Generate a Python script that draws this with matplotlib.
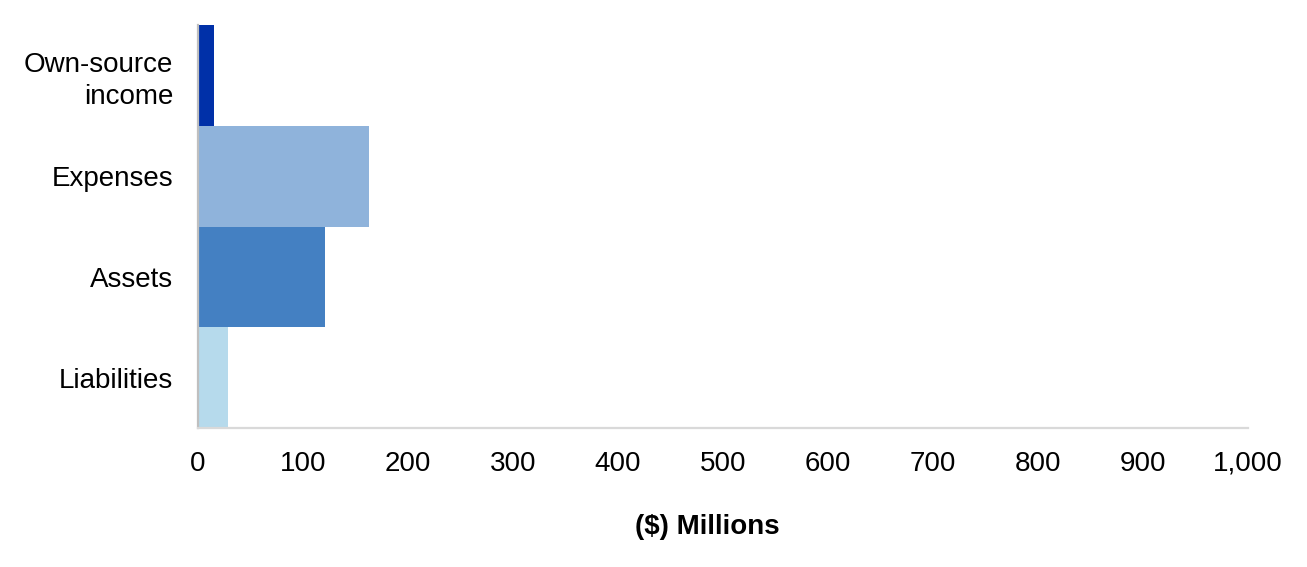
import matplotlib
matplotlib.use("Agg")
import matplotlib.pyplot as plt

categories = ["Own-source\nincome", "Expenses", "Assets", "Liabilities"]
values = [15, 163, 121, 29]
colors = ["#0030A8", "#8FB3DB", "#4480C2", "#B6DAEC"]
xticks = [0, 100, 200, 300, 400, 500, 600, 700, 800, 900, 1000]
xtick_labels = ["0", "100", "200", "300", "400", "500", "600", "700", "800", "900", "1,000"]

plt.rcParams["font.family"] = ["Liberation Sans", "DejaVu Sans"]

fig = plt.figure(figsize=(13.07, 5.67), dpi=100)
ax = fig.add_axes([198/1307, 1-428/567, 1050/1307, 403/567])

ypos = list(range(len(categories)))
ax.barh(ypos, values, height=1.0, color=colors, edgecolor="none")
ax.set_ylim(len(categories) - 0.5, -0.5)
ax.set_xlim(0, 1000)
ax.set_yticks(ypos)
ax.set_yticklabels(categories, fontsize=20, ha="right", linespacing=1.3)
ax.set_xticks(xticks)
ax.set_xticklabels(xtick_labels, fontsize=20)
ax.tick_params(axis="both", length=0)
ax.tick_params(axis="x", pad=16.5)
ax.tick_params(axis="y", pad=18)

for s in ["top", "right"]:
    ax.spines[s].set_visible(False)
ax.spines["left"].set_color("#BFBFBF")
ax.spines["left"].set_linewidth(1.6)
ax.spines["bottom"].set_color("#D9D9D9")
ax.spines["bottom"].set_linewidth(1.6)

ax.set_xlabel("($) Millions", fontsize=20, fontweight="bold")
ax.xaxis.set_label_coords((707-198)/1050, (428-527)/403)
ax.xaxis.label.set_va("center")

fig.savefig("out.png", dpi=100, facecolor="white")
